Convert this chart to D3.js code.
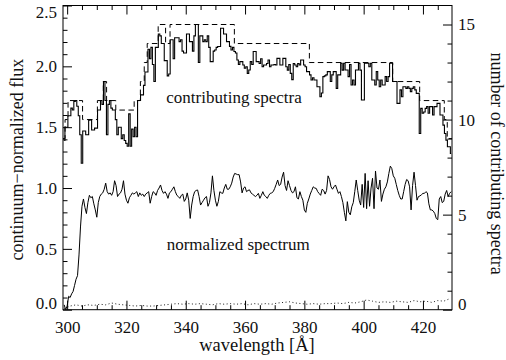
<!DOCTYPE html>
<html><head><meta charset="utf-8">
<script src="https://cdn.jsdelivr.net/npm/d3@7"></script>
<style>
html,body{margin:0;padding:0;background:#fff;}
svg{display:block;}
text{font-family:"Liberation Serif","Times New Roman",serif;fill:#111;}
</style></head>
<body>
<svg id="c" width="506" height="360"></svg>
<script>
// wavelength grid starts at 299.0 A, 0.5 A spacing
const gridStart = 299.0, gridStep = 0.5;

// continuum-normalized spectrum (left axis)
const normFlux = [
0.04,0.00,0.03,0.11,0.10,0.13,0.15,0.20,0.25,0.28,
0.45,0.68,0.85,0.91,0.84,0.79,0.88,0.94,0.92,0.93,
0.87,0.82,0.76,0.88,0.93,0.95,0.96,0.99,1.04,0.97,
0.95,0.96,0.94,0.97,1.06,1.02,0.93,0.95,0.96,0.99,
1.06,0.95,0.90,0.875,0.92,0.94,0.96,0.95,0.96,0.97,
0.93,0.96,0.94,0.95,0.93,0.95,0.96,0.97,0.875,0.93,
0.97,0.96,0.94,0.98,1.00,1.025,0.98,0.956,0.97,0.95,
0.915,0.96,0.97,0.99,1.01,0.97,0.94,0.93,0.915,0.94,
0.95,0.89,0.91,0.96,0.90,0.75,0.86,0.93,0.97,0.98,
0.984,0.93,0.86,0.88,0.90,0.92,0.93,0.85,0.88,0.96,
1.10,0.98,0.90,0.85,0.89,0.97,0.96,0.956,1.00,1.03,
0.99,0.99,1.01,1.04,1.09,1.12,1.115,1.11,1.11,1.05,
0.96,1.00,1.01,0.97,0.98,0.985,0.96,0.95,0.94,0.93,
0.94,0.956,0.915,0.94,0.97,0.94,0.93,0.915,0.94,0.956,
0.96,0.97,0.997,1.03,1.066,1.02,1.03,1.09,1.13,1.02,
0.98,1.06,1.02,0.98,0.96,0.97,1.01,0.92,0.91,0.97,
0.93,0.90,0.82,0.80,0.874,0.91,0.95,0.98,1.01,1.00,
0.997,0.97,0.955,0.94,0.99,0.98,0.95,0.98,1.10,1.07,
1.01,0.99,1.01,1.025,0.99,0.956,0.97,0.93,0.88,0.80,
0.73,0.888,0.80,0.78,0.846,0.88,0.97,1.066,0.98,0.90,
0.86,1.03,0.84,1.12,0.83,1.06,0.85,1.00,1.08,0.83,
1.14,1.00,0.99,1.066,0.89,0.95,0.99,1.01,1.05,1.12,
1.18,1.16,1.10,1.08,1.03,0.98,0.94,0.91,0.91,0.97,
1.03,1.07,1.06,1.01,0.82,1.02,1.13,1.02,0.90,0.93,
0.935,0.945,0.956,0.956,0.97,0.96,0.87,0.82,0.82,0.81,
0.79,0.75,0.74,0.91,0.93,0.88,0.89,0.95,0.98,0.93,
0.956,0.97];

// mean number of contributing spectra (right axis), step histogram
const contribMean = [
8.9,9.6,9.6,10.2,10.2,10.6,10.5,10.95,11.0,10.7,
10.2,9.2,7.7,9.4,9.4,9.2,9.2,9.97,10.0,9.45,
9.45,9.55,9.55,10.5,10.5,11.0,10.8,12.0,11.0,9.2,
10.8,11.0,10.6,10.5,10.5,10.0,9.2,9.6,9.6,9.0,
9.2,8.9,8.75,8.6,10.3,8.6,9.5,9.1,9.6,9.1,
11.0,11.0,11.3,11.3,11.8,12.5,12.5,13.7,13.2,13.8,
12.9,12.0,13.8,13.8,14.5,14.4,14.0,14.0,13.1,13.1,
12.3,12.4,14.2,14.2,13.2,14.3,14.3,14.3,14.1,14.2,
13.6,13.5,13.5,14.5,14.5,14.1,14.1,13.6,14.4,15.0,
15.0,13.0,14.4,14.4,14.1,14.2,14.1,14.4,13.8,13.05,
13.05,13.6,13.66,13.8,13.84,13.84,14.8,14.8,14.5,14.5,
14.1,14.1,13.85,13.66,13.8,13.58,13.5,13.13,12.9,13.05,
13.05,12.87,12.7,12.78,12.43,12.61,13.05,12.9,13.58,13.58,
13.05,13.05,12.95,13.2,12.78,12.87,12.87,12.95,13.13,12.78,
12.87,12.87,12.9,12.87,13.22,13.22,12.87,12.87,13.22,13.22,
12.78,12.6,12.9,12.43,12.1,12.95,12.87,12.78,12.95,12.87,
13.13,13.13,12.87,12.78,12.52,12.52,12.35,12.08,12.2,12.08,
12.08,11.73,11.73,11.2,11.4,12.26,12.3,12.35,12.52,12.52,
12.0,12.35,12.52,12.52,11.64,12.35,12.35,12.96,12.6,12.96,
12.61,12.61,12.26,12.9,11.82,12.08,11.82,12.61,12.61,12.96,
12.6,11.03,11.03,12.96,12.96,12.96,12.78,12.96,12.08,12.08,
11.82,12.52,12.08,11.73,12.08,11.82,11.82,12.26,12.0,12.26,
12.96,12.96,12.0,12.0,12.0,10.85,10.85,11.56,11.2,11.73,
11.73,11.64,11.73,11.64,11.47,11.64,11.73,11.56,11.38,11.38,
9.27,10.59,10.33,10.4,10.59,10.68,10.33,10.68,10.68,10.24,
10.68,10.68,10.85,10.85,10.24,10.24,9.71,9.27,8.92,8.57,
8.57,8.22];

// maximum number of contributing spectra (dashed), level starts
const maxStart = [298.6,299.3,300.3,305.2,310.2,312.2,313.3,316.4,322.6,324.7,326.0,327.0,330.7,333.2,334.7,356.4,381.7,409.8,418.9,427.2,428.2];
const maxLevel = [9,10,11,10,11,12,11,10.5,11,12,13,14,15,14,15,14,13,12,11,10,9];

// error spectrum (dotted), 2 A spacing from 299
const errStart = 299, errStep = 2;
const errFlux = [
0.01,0.03,0.04,0.03,0.04,0.035,0.045,0.04,0.055,0.045,
0.04,0.035,0.03,0.035,0.03,0.03,0.035,0.04,0.045,0.05,
0.045,0.05,0.045,0.05,0.045,0.04,0.05,0.045,0.05,0.045,
0.05,0.04,0.05,0.045,0.05,0.045,0.055,0.06,0.065,0.055,
0.05,0.045,0.05,0.045,0.05,0.05,0.055,0.05,0.06,0.055,
0.065,0.08,0.07,0.06,0.065,0.06,0.07,0.065,0.06,0.075,
0.065,0.07,0.06,0.075,0.07,0.09];

const xTicksMajor = [300,320,340,360,380,400,420];
const yLeftTicks = [0.0,0.5,1.0,1.5,2.0,2.5];
const yRightTicks = [0,5,10,15];

const xDomain = [298.6, 429.8];
const L = 63, R = 452, T = 5.5, B = 309.7;

const svg = d3.select("#c");
const x = d3.scaleLinear().domain(xDomain).range([L, R]);
const yL = d3.scaleLinear().domain([0, 2.5]).range([B, T]);
const yR = d3.scaleLinear().domain([0, 16]).range([B, T]);

svg.append("defs").append("clipPath").attr("id","clip")
  .append("rect").attr("x",L).attr("y",T).attr("width",R-L).attr("height",B-T);

const g = svg.append("g").attr("clip-path","url(#clip)");

const wl = i => gridStart + gridStep*i;

// step line of contributing spectra
g.append("path")
  .datum(contribMean)
  .attr("fill","none").attr("stroke","#000").attr("stroke-width",1.1)
  .attr("d", d3.line().curve(d3.curveStep).x((d,i)=>x(wl(i))).y(d=>yR(d)));

// dashed max line
const maxPts = maxStart.map((s,i)=>[s, maxLevel[i]]);
maxPts.push([xDomain[1], maxLevel[maxLevel.length-1]]);
g.append("path")
  .datum(maxPts)
  .attr("fill","none").attr("stroke","#000").attr("stroke-width",1)
  .attr("stroke-dasharray","5.5,3.5")
  .attr("d", d3.line().curve(d3.curveStepAfter).x(d=>x(d[0])).y(d=>yR(d[1])));

// normalized spectrum
g.append("path")
  .datum(normFlux)
  .attr("fill","none").attr("stroke","#000").attr("stroke-width",1)
  .attr("stroke-linejoin","round")
  .attr("d", d3.line().x((d,i)=>x(wl(i))).y(d=>yL(d)));

// dotted error
g.append("path")
  .datum(errFlux)
  .attr("fill","none").attr("stroke","#000").attr("stroke-width",0.9)
  .attr("stroke-dasharray","1,2.5")
  .attr("d", d3.line().x((d,i)=>x(errStart+errStep*i)).y(d=>yL(d)));

// frame
svg.append("rect").attr("x",L).attr("y",T).attr("width",R-L).attr("height",B-T)
  .attr("fill","none").attr("stroke","#000").attr("stroke-width",1);

const fs = "17px";
function styleAxis(sel){
  sel.select(".domain").remove();
  sel.selectAll(".tick line").attr("stroke","#000").attr("stroke-width",1);
  sel.selectAll("text").attr("font-size",fs).attr("fill","#111")
    .attr("font-family","Liberation Serif, Times New Roman, serif");
}

// bottom axis
const minorX = d3.range(300, 430, 5).filter(v=>v%20!==0);
svg.append("g").attr("transform",`translate(0,${B})`)
  .call(d3.axisBottom(x).tickValues(xTicksMajor).tickSize(-9).tickPadding(11).tickFormat(d3.format("d")))
  .call(styleAxis);
svg.append("g").attr("transform",`translate(0,${B})`)
  .call(d3.axisBottom(x).tickValues(minorX).tickSize(-4.5).tickFormat(""))
  .call(styleAxis);
// top axis
svg.append("g").attr("transform",`translate(0,${T})`)
  .call(d3.axisTop(x).tickValues(xTicksMajor).tickSize(-9).tickFormat(""))
  .call(styleAxis);
svg.append("g").attr("transform",`translate(0,${T})`)
  .call(d3.axisTop(x).tickValues(minorX).tickSize(-4.5).tickFormat(""))
  .call(styleAxis);

// left axis
const minorYL = d3.range(0, 2.51, 0.1).map(v=>+v.toFixed(1)).filter(v=>Math.abs(v*2-Math.round(v*2))>1e-6);
const la = svg.append("g").attr("transform",`translate(${L},0)`)
  .call(d3.axisLeft(yL).tickValues(yLeftTicks).tickSize(-9).tickPadding(6).tickFormat(d3.format(".1f")))
  .call(styleAxis);
la.selectAll(".tick text").attr("dy", d => d===0 ? "-0.1em" : (d===2.5 ? "0.72em" : "0.32em"));
svg.append("g").attr("transform",`translate(${L},0)`)
  .call(d3.axisLeft(yL).tickValues(minorYL).tickSize(-4.5).tickFormat(""))
  .call(styleAxis);

// right axis
const minorYR = d3.range(0, 16, 1).filter(v=>v%5!==0);
const ra = svg.append("g").attr("transform",`translate(${R},0)`)
  .call(d3.axisRight(yR).tickValues(yRightTicks).tickSize(-9).tickPadding(6).tickFormat(d3.format("d")))
  .call(styleAxis);
ra.selectAll(".tick text").attr("dy", d => d===0 ? "0.0em" : "0.32em");
svg.append("g").attr("transform",`translate(${R},0)`)
  .call(d3.axisRight(yR).tickValues(minorYR).tickSize(-4.5).tickFormat(""))
  .call(styleAxis);

// axis titles
svg.append("text").attr("x", 257).attr("y", 351)
  .attr("text-anchor","middle").attr("font-size","18.5px").text("wavelength [Å]");
svg.append("text").attr("transform",`translate(23,${(T+B)/2 + 2}) rotate(-90)`)
  .attr("text-anchor","middle").attr("font-size","18px").text("continuum\u2212normalized flux");
svg.append("text").attr("transform",`translate(491,${(T+B)/2 + 6}) rotate(90)`)
  .attr("text-anchor","middle").attr("font-size","18px").text("number of contributing spectra");

// annotations
svg.append("text").attr("x", x(356.3)).attr("y", yL(1.70))
  .attr("text-anchor","middle").attr("font-size","17px").text("contributing spectra");
svg.append("text").attr("x", x(357.7)).attr("y", yL(0.49))
  .attr("text-anchor","middle").attr("font-size","17px").text("normalized spectrum");
</script>
</body></html>
